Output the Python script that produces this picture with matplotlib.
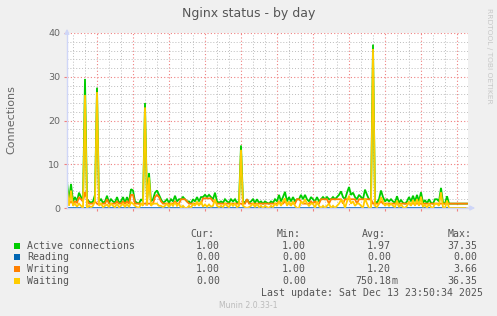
import matplotlib
matplotlib.use('Agg')
import matplotlib.pyplot as plt
import matplotlib.dates as mdates
from matplotlib.patches import Rectangle
from matplotlib.ticker import MultipleLocator, FuncFormatter
import pandas as pd

# 10 minute samples starting Fri 12 Dec 2025 14:30
start = '2025-12-12 14:30'

active = [
    6.0, 1.5, 5.5, 1.5, 2.5, 1.5, 3.5, 2.5, 1.5, 29.5,
    2.0, 1.5, 1.2, 1.5, 3.0, 27.5, 1.5, 2.0, 1.2, 1.5,
    2.8, 1.2, 2.0, 1.5, 1.2, 2.5, 1.2, 1.5, 2.5, 1.2,
    2.5, 1.2, 4.3, 4.0, 1.5, 1.2, 1.0, 2.0, 1.5, 24.0,
    1.5, 8.0, 1.5, 2.0, 3.5, 4.0, 3.0, 2.0, 1.2, 1.5,
    2.0, 1.2, 2.0, 1.5, 2.8, 1.5, 2.0, 2.0, 2.5, 2.0,
    1.5, 1.5, 1.0, 2.0, 1.5, 2.5, 1.5, 2.5, 2.5, 3.0,
    2.5, 3.0, 2.5, 2.0, 3.5, 1.5, 1.2, 1.5, 1.2, 2.0,
    1.5, 1.2, 2.0, 1.5, 2.0, 1.2, 1.5, 14.3, 1.5, 1.2,
    2.0, 1.2, 1.5, 2.0, 1.2, 2.0, 1.2, 1.5, 1.0, 1.5,
    1.2, 1.0, 1.5, 1.2, 2.0, 1.5, 3.0, 1.5, 2.5, 3.7,
    1.5, 2.5, 1.5, 2.5, 1.5, 2.0, 2.0, 3.0, 2.0, 3.0,
    2.0, 1.5, 2.5, 2.0, 1.5, 2.5, 1.5, 2.0, 2.5, 2.0,
    2.5, 2.0, 2.0, 2.5, 2.0, 2.5, 3.0, 3.8, 2.5, 2.0,
    3.5, 4.8, 3.0, 3.5, 2.5, 2.0, 3.0, 2.5, 2.0, 4.2,
    3.0, 2.0, 2.0, 37.35, 1.5, 1.2, 2.0, 4.0, 2.5, 1.5,
    2.0, 1.5, 2.0, 1.5, 1.2, 2.7, 1.2, 1.8, 1.2, 1.0,
    1.5, 2.5, 1.5, 2.8, 1.5, 3.0, 1.5, 3.6, 1.2, 1.8,
    1.0, 2.0, 1.2, 1.0, 2.0, 2.0, 1.5, 4.6, 1.2, 1.0,
    2.7, 1.0, 1.0, 1.0, 1.0, 1.0, 1.0, 1.0, 1.0, 1.0,
    1.0,
]

writing = [
    1.5, 1.0, 1.5, 1.0, 1.5, 1.2, 2.5, 2.0, 1.5, 3.66,
    2.0, 1.0, 1.0, 1.0, 1.5, 1.0, 1.0, 1.0, 1.0, 1.0,
    2.0, 1.0, 1.0, 1.0, 1.0, 1.5, 1.0, 1.0, 1.5, 1.0,
    1.5, 1.0, 3.0, 3.0, 1.0, 1.0, 1.0, 1.0, 1.0, 1.0,
    1.0, 1.0, 1.0, 1.0, 2.5, 3.0, 2.5, 1.5, 1.0, 1.0,
    1.0, 1.0, 1.0, 1.0, 1.5, 1.0, 1.0, 2.0, 2.0, 2.0,
    1.5, 1.0, 1.0, 1.0, 1.0, 1.0, 1.0, 1.0, 2.2, 2.2,
    2.2, 2.2, 2.2, 1.5, 1.5, 1.0, 1.0, 1.0, 1.0, 1.0,
    1.0, 1.0, 1.0, 1.0, 1.0, 1.0, 1.0, 1.0, 1.0, 1.0,
    2.0, 1.0, 1.0, 1.0, 1.0, 1.0, 1.0, 1.0, 1.0, 1.0,
    1.0, 1.0, 1.0, 1.0, 1.0, 1.0, 1.5, 1.0, 1.0, 1.5,
    1.0, 1.0, 1.0, 1.0, 1.0, 2.0, 2.0, 1.5, 1.0, 1.0,
    1.0, 1.0, 1.5, 1.0, 1.5, 1.0, 1.0, 2.0, 2.0, 2.0,
    2.0, 1.0, 2.0, 2.0, 2.0, 2.0, 2.0, 2.0, 1.0, 2.0,
    2.0, 2.0, 2.0, 2.0, 2.0, 1.0, 2.0, 2.0, 2.0, 2.0,
    2.0, 2.0, 2.0, 1.0, 1.0, 1.0, 1.0, 1.5, 1.0, 1.0,
    1.0, 1.0, 1.0, 1.0, 1.0, 1.0, 1.0, 1.0, 1.0, 1.0,
    1.0, 1.0, 1.0, 1.0, 1.0, 1.0, 1.0, 1.0, 1.0, 1.0,
    1.0, 1.0, 1.0, 1.0, 1.0, 1.0, 1.0, 1.0, 1.0, 1.0,
    1.0, 1.0, 1.0, 1.0, 1.0, 1.0, 1.0, 1.0, 1.0, 1.0,
    1.0,
]

waiting = [
    4.5, 0.5, 4.0, 0.5, 1.0, 0.3, 1.0, 0.5, 0.0, 25.84,
    0.0, 0.5, 0.2, 0.5, 1.5, 26.5, 0.5, 1.0, 0.2, 0.5,
    0.8, 0.2, 1.0, 0.5, 0.2, 1.0, 0.2, 0.5, 1.0, 0.2,
    1.0, 0.2, 1.3, 1.0, 0.5, 0.2, 0.0, 1.0, 0.5, 23.0,
    0.5, 7.0, 0.5, 1.0, 1.0, 1.0, 0.5, 0.5, 0.2, 0.5,
    1.0, 0.2, 1.0, 0.5, 1.3, 0.5, 1.0, 0.0, 0.5, 0.0,
    0.0, 0.5, 0.0, 1.0, 0.5, 1.5, 0.5, 1.5, 0.3, 0.8,
    0.3, 0.8, 0.3, 0.5, 2.0, 0.5, 0.2, 0.5, 0.2, 1.0,
    0.5, 0.2, 1.0, 0.5, 1.0, 0.2, 0.5, 13.3, 0.5, 0.2,
    0.0, 0.2, 0.5, 1.0, 0.2, 1.0, 0.2, 0.5, 0.0, 0.5,
    0.2, 0.0, 0.5, 0.2, 1.0, 0.5, 1.5, 0.5, 1.5, 2.2,
    0.5, 1.5, 0.5, 1.5, 0.5, 0.0, 0.0, 1.5, 1.0, 2.0,
    1.0, 0.5, 1.0, 1.0, 0.0, 1.5, 0.5, 0.0, 0.5, 0.0,
    0.5, 1.0, 0.0, 0.5, 0.0, 0.5, 1.0, 1.8, 1.5, 0.0,
    1.5, 2.8, 1.0, 1.5, 0.5, 1.0, 1.0, 0.5, 0.0, 2.2,
    1.0, 0.0, 0.0, 36.35, 0.5, 0.2, 1.0, 2.5, 1.5, 0.5,
    1.0, 0.5, 1.0, 0.5, 0.2, 1.7, 0.2, 0.8, 0.2, 0.0,
    0.5, 1.5, 0.5, 1.8, 0.5, 2.0, 0.5, 2.6, 0.2, 0.8,
    0.0, 1.0, 0.2, 0.0, 1.0, 1.0, 0.5, 3.6, 0.2, 0.0,
    1.7, 0.0, 0.0, 0.0, 0.0, 0.0, 0.0, 0.0, 0.0, 0.0,
    0.0,
]

reading = [0.0] * len(active)

labels = ['Active connections', 'Reading', 'Writing', 'Waiting']
colors = ['#00CC00', '#0066B3', '#FF8000', '#FFCC00']
cur_vals = ['1.00', '0.00', '1.00', '0.00']
min_vals = ['1.00', '0.00', '1.00', '0.00']
avg_vals = ['1.97', '0.00', '1.20', '750.18m']
max_vals = ['37.35', '0.00', '3.66', '36.35']
last_update = 'Last update: Sat Dec 13 23:50:34 2025'

W, H = 497, 316
font_col = '#666666'
axis_col = '#CFD6F8'


def px(x, y):
    # pixel position (from top left) -> figure fraction
    return x / W, 1 - y / H


fig = plt.figure(figsize=(W / 100, H / 100), dpi=100)
fig.patch.set_facecolor('#F0F0F0')
ax = fig.add_axes([67 / W, (H - 208) / H, 401 / W, 175 / H])
ax.set_facecolor('white')

times = pd.date_range(start, periods=len(active), freq='10min')
series = [active, reading, writing, waiting]
for vals, col in zip(series, colors):
    ax.plot(times, vals, color=col, lw=1.3, solid_joinstyle='miter')

ax.set_xlim(pd.Timestamp('2025-12-12 14:30'), pd.Timestamp('2025-12-13 23:55'))
ax.set_ylim(0, 40)

ax.xaxis.set_major_locator(mdates.HourLocator(interval=3))
ax.xaxis.set_minor_locator(mdates.HourLocator())


def fmt_time(x, pos):
    d = mdates.num2date(x)
    if d.hour % 6 == 0:
        return d.strftime('%a %H:%M')
    return ''


ax.xaxis.set_major_formatter(FuncFormatter(fmt_time))
ax.yaxis.set_major_locator(MultipleLocator(10))
ax.yaxis.set_minor_locator(MultipleLocator(2))

ax.grid(which='major', color='#F08080', linestyle=(0, (1, 2)), lw=0.8)
ax.grid(which='minor', color='#BDBDBD', linestyle=(0, (1, 2)), lw=0.7)
ax.set_axisbelow(True)

ax.tick_params(which='both', colors=font_col, labelsize=6.8, length=0, pad=4)
ax.tick_params(axis='x', which='major', length=2, color='#F08080', pad=2)
ax.tick_params(axis='y', which='major', length=2, color='#F08080', pad=3)

for s in ['top', 'right']:
    ax.spines[s].set_visible(False)
for s in ['left', 'bottom']:
    ax.spines[s].set_color(axis_col)
    ax.spines[s].set_linewidth(1)

# axis arrows
ax.annotate('', xy=(0, 1.04), xytext=(0, 0.98), xycoords='axes fraction',
            arrowprops=dict(arrowstyle='-|>', color=axis_col, lw=1, mutation_scale=7))
ax.annotate('', xy=(1.025, 0), xytext=(0.99, 0), xycoords='axes fraction',
            arrowprops=dict(arrowstyle='-|>', color=axis_col, lw=1, mutation_scale=7))

# title, axis label, watermark
fig.text(*px(248.5, 13), 'Nginx status - by day', ha='center', va='center',
         fontsize=9, color='#555555')
fig.text(*px(11, 120), 'Connections', ha='center', va='center', rotation=90,
         fontsize=8, color=font_col)
fig.text(*px(488.5, 56), 'RRDTOOL / TOBI OETIKER', ha='center', va='center',
         rotation=270, fontsize=5.4, color='#C8C8C8')

# legend block
mono = dict(family='DejaVu Sans Mono', fontsize=7.1, color='#555555', va='center')
row_y = [245.7, 257.3, 269.3, 281.3]
for hdr, xx in zip(['Cur:', 'Min:', 'Avg:', 'Max:'], [190, 277, 362, 448]):
    fig.text(*px(xx, 234), hdr, ha='left', **mono)


def put_value(s, x_end, y):
    if s[-1].isalpha():
        fig.text(*px(x_end, y), s[:-1], ha='right', **mono)
        fig.text(*px(x_end, y), s[-1], ha='left', **mono)
    else:
        fig.text(*px(x_end, y), s, ha='right', **mono)


for i, lab in enumerate(labels):
    y = row_y[i]
    fig.patches.append(Rectangle(px(14, y + 3), 6 / W, 6 / H, transform=fig.transFigure,
                                 facecolor=colors[i], edgecolor='none'))
    fig.text(*px(27, y), lab, ha='left', **mono)
    put_value(cur_vals[i], 220, y)
    put_value(min_vals[i], 306, y)
    put_value(avg_vals[i], 391, y)
    put_value(max_vals[i], 477, y)

fig.text(*px(483, 293), last_update, ha='right', **mono)
fig.text(*px(248.5, 305.5), 'Munin 2.0.33-1', ha='center', va='center',
         fontsize=5.6, color='#BBBBBB')

fig.savefig('out.png', dpi=100, facecolor=fig.get_facecolor())
